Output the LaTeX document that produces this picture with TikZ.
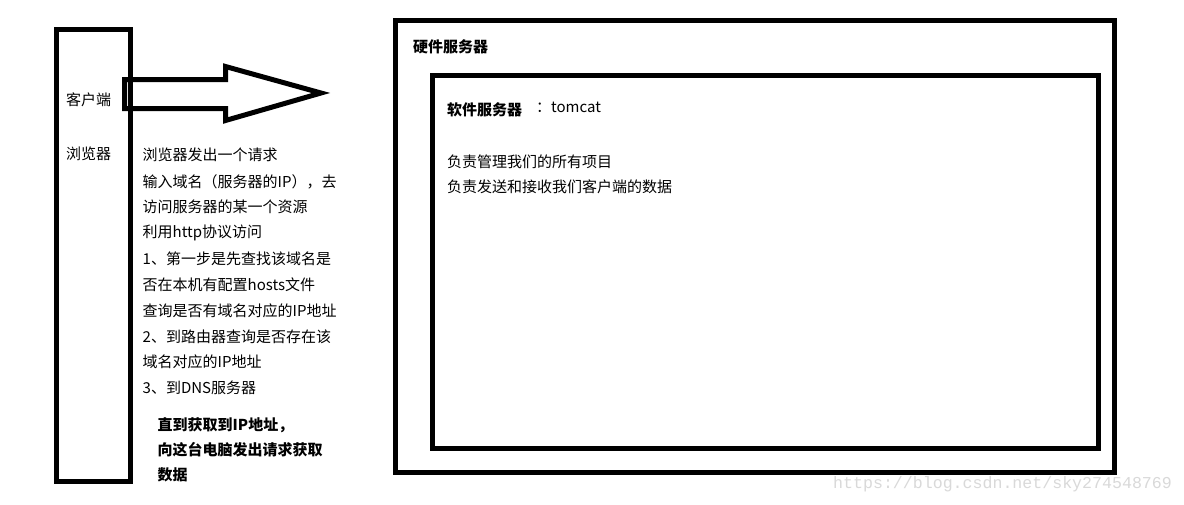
\documentclass[tikz,border=0pt]{standalone}
\usepackage{fontspec}
\setmainfont{Noto Sans CJK SC}
\newfontfamily\wmfont{Liberation Mono}
\begin{document}
\begin{tikzpicture}[x=1pt,y=-1pt,
  frame/.style={draw=black,line width=5pt,line join=miter},
  txt/.style={anchor=west,inner sep=0pt,font=\fontsize{15}{18}\selectfont},
  btxt/.style={anchor=west,inner sep=0pt,font=\fontsize{15}{18}\selectfont\bfseries}]
\useasboundingbox[fill=white] (0,0) rectangle (1184,504);
% client box
\draw[frame] (56.5,29.5) rectangle (130.8,481.5);
% arrow
\draw[frame] (124.5,79.5) -- (225.5,79.5) -- (225.5,66.5) -- (321,93) -- (225.5,120.5) -- (225.5,108.5) -- (124.5,108.5) -- cycle;
% server boxes
\draw[frame] (395,20) rectangle (1114,472.5);
\draw[frame] (432.5,75) rectangle (1098.5,448.5);
% client labels
\node[txt] (kehu) at (66,100) {客户端};
\node[txt] (liulan) at (66,154) {浏览器};
% left text
\node[txt] (l1) at (142.5,155) {浏览器发出一个请求};
\node[txt] (l2) at (142.5,181.5) {输入域名（服务器的IP），去};
\node[txt] (l3) at (142.5,207) {访问服务器的某一个资源};
\node[txt] (l4) at (142.5,232.5) {利用http协议访问};
\node[txt] (l5) at (142.5,258.5) {1、第一步是先查找该域名是};
\node[txt] (l6) at (142.5,284.5) {否在本机有配置hosts文件};
\node[txt] (l7) at (142.5,310.5) {查询是否有域名对应的IP地址};
\node[txt] (l8) at (142.5,336.5) {2、到路由器查询是否存在该};
\node[txt] (l9) at (142.5,362) {域名对应的IP地址};
\node[txt] (l10) at (142.5,388) {3、到DNS服务器};
\node[btxt] (b1) at (157.5,425) {直到获取到IP地址，};
\node[btxt] (b2) at (157.5,450) {向这台电脑发出请求获取};
\node[btxt] (b3) at (157.5,475) {数据};
% server texts
\node[btxt] (hw) at (413,47) {硬件服务器};
\node[btxt] (sw) at (447,109.5) {软件服务器};
\node[txt] (tc) at (536,107.5) {：tomcat};
\node[txt] (r1) at (447,161.5) {负责管理我们的所有项目};
\node[txt] (r2) at (447,187) {负责发送和接收我们客户端的数据};
% watermark
\node[anchor=west,inner sep=0pt,text=black!15,font=\wmfont\fontsize{16.6}{18}\selectfont] (wm) at (833,484) {https://blog.csdn.net/sky274548769};
\end{tikzpicture}
\end{document}
